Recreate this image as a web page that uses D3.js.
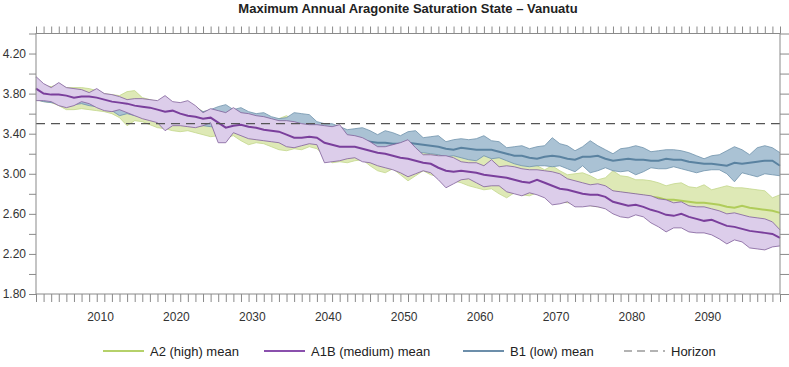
<!DOCTYPE html>
<html>
<head>
<meta charset="utf-8">
<script src="https://cdn.jsdelivr.net/npm/d3@7"></script>
<style>
  body { margin: 0; background: #fff; }
  text { font-family: "Liberation Sans", Arial, Helvetica, sans-serif; }
</style>
</head>
<body>
<div id="chart-area"></div>
<script>
const years = d3.range(2001, 2100)

// A2 (high)
const a2High = [
  3.95,3.88,3.87,3.89,3.86,3.86,3.86,3.85,3.83,3.80,
  3.79,3.78,3.82,3.83,3.76,3.74,3.72,3.74,3.70,3.69,
  3.71,3.67,3.62,3.63,3.61,3.60,3.62,3.59,3.57,3.56,
  3.55,3.53,3.55,3.58,3.53,3.49,3.47,3.46,3.45,3.44,
  3.44,3.38,3.37,3.36,3.37,3.38,3.36,3.34,3.32,3.31,
  3.28,3.27,3.25,3.24,3.23,3.22,3.21,3.20,3.19,3.20,
  3.20,3.24,3.21,3.17,3.12,3.10,3.08,3.04,3.08,3.03,
  2.99,3.00,3.01,2.98,2.94,2.96,3.03,2.98,2.97,2.94,
  2.94,2.93,2.91,2.88,2.90,2.91,2.87,2.86,2.89,2.84,
  2.86,2.88,2.86,2.86,2.85,2.84,2.83,2.76,2.79]
const a2Mean = [
  3.86,3.81,3.80,3.81,3.79,3.78,3.78,3.77,3.76,3.74,
  3.73,3.72,3.71,3.71,3.68,3.66,3.64,3.63,3.62,3.60,
  3.59,3.57,3.55,3.55,3.51,3.48,3.49,3.48,3.46,3.45,
  3.44,3.42,3.41,3.40,3.37,3.35,3.35,3.34,3.30,3.28,
  3.27,3.25,3.24,3.23,3.22,3.20,3.19,3.17,3.15,3.13,
  3.12,3.11,3.10,3.07,3.05,3.04,3.04,3.03,3.02,3.01,
  3.01,3.00,2.99,2.97,2.95,2.94,2.95,2.92,2.92,2.90,
  2.88,2.87,2.86,2.85,2.84,2.83,2.82,2.81,2.80,2.79,
  2.78,2.77,2.76,2.74,2.74,2.73,2.72,2.71,2.71,2.70,
  2.69,2.67,2.66,2.68,2.66,2.65,2.64,2.63,2.61]
const a2Low = [
  3.74,3.72,3.71,3.68,3.64,3.64,3.65,3.64,3.63,3.62,
  3.60,3.56,3.48,3.53,3.52,3.49,3.46,3.45,3.43,3.42,
  3.43,3.41,3.39,3.37,3.38,3.36,3.38,3.33,3.29,3.31,
  3.30,3.27,3.24,3.23,3.25,3.24,3.27,3.25,3.18,3.11,
  3.12,3.11,3.13,3.14,3.08,3.03,3.01,3.05,2.99,2.93,
  2.98,3.03,2.99,2.97,2.94,2.93,2.91,2.88,2.86,2.84,
  2.85,2.80,2.76,2.81,2.79,2.78,2.81,2.77,2.74,2.72,
  2.71,2.70,2.69,2.68,2.67,2.66,2.65,2.64,2.63,2.62,
  2.61,2.60,2.59,2.58,2.58,2.57,2.56,2.55,2.55,2.54,
  2.53,2.53,2.52,2.51,2.50,2.49,2.48,2.47,2.44]

// A1B (medium)
const a1bHigh = [
  3.97,3.90,3.86,3.91,3.86,3.85,3.84,3.81,3.85,3.80,
  3.79,3.77,3.74,3.75,3.75,3.74,3.73,3.78,3.72,3.71,
  3.73,3.68,3.61,3.65,3.63,3.61,3.66,3.61,3.60,3.58,
  3.57,3.55,3.53,3.53,3.52,3.50,3.49,3.49,3.48,3.47,
  3.49,3.39,3.38,3.36,3.32,3.27,3.27,3.29,3.31,3.34,
  3.26,3.19,3.19,3.18,3.18,3.16,3.12,3.11,3.11,3.08,
  3.14,3.07,3.08,3.07,3.05,3.04,3.04,3.03,3.02,3.00,
  2.95,2.93,2.91,2.89,2.90,2.88,2.83,2.82,2.81,2.80,
  2.79,2.78,2.75,2.74,2.71,2.72,2.68,2.67,2.67,2.65,
  2.63,2.60,2.61,2.59,2.57,2.56,2.55,2.52,2.44]
const a1bMean = [
  3.85,3.80,3.79,3.79,3.78,3.76,3.77,3.77,3.76,3.74,
  3.72,3.71,3.70,3.68,3.67,3.66,3.64,3.62,3.63,3.60,
  3.58,3.57,3.55,3.56,3.51,3.46,3.48,3.49,3.47,3.46,
  3.44,3.43,3.42,3.39,3.36,3.36,3.37,3.36,3.31,3.29,
  3.27,3.27,3.27,3.25,3.23,3.21,3.20,3.18,3.16,3.15,
  3.13,3.11,3.10,3.06,3.03,3.02,3.03,3.02,3.01,2.99,
  2.98,2.97,2.96,2.94,2.92,2.91,2.94,2.91,2.88,2.85,
  2.84,2.82,2.80,2.79,2.79,2.77,2.72,2.70,2.68,2.69,
  2.67,2.64,2.62,2.59,2.58,2.60,2.57,2.55,2.53,2.54,
  2.51,2.48,2.47,2.45,2.43,2.42,2.41,2.40,2.36]
const a1bLow = [
  3.73,3.73,3.72,3.68,3.66,3.68,3.72,3.70,3.66,3.63,
  3.62,3.64,3.61,3.58,3.55,3.53,3.51,3.43,3.48,3.48,
  3.47,3.46,3.48,3.51,3.31,3.31,3.41,3.38,3.35,3.34,
  3.33,3.32,3.31,3.27,3.26,3.28,3.30,3.29,3.11,3.12,
  3.13,3.15,3.16,3.12,3.11,3.08,3.06,3.04,3.01,2.97,
  3.00,3.03,3.01,2.94,2.86,2.90,2.94,2.95,2.91,2.87,
  2.88,2.88,2.82,2.80,2.78,2.81,2.79,2.76,2.69,2.70,
  2.72,2.67,2.67,2.68,2.67,2.65,2.60,2.57,2.56,2.59,
  2.57,2.51,2.47,2.42,2.46,2.46,2.42,2.41,2.41,2.39,
  2.35,2.30,2.34,2.32,2.26,2.25,2.24,2.27,2.28]

// B1 (low)
const b1High = [
  3.96,3.88,3.85,3.87,3.84,3.83,3.82,3.80,3.81,3.78,
  3.76,3.75,3.72,3.73,3.72,3.71,3.70,3.72,3.69,3.68,
  3.69,3.66,3.62,3.64,3.67,3.69,3.64,3.66,3.62,3.60,
  3.61,3.57,3.55,3.56,3.61,3.60,3.59,3.52,3.50,3.50,
  3.47,3.44,3.45,3.46,3.43,3.39,3.43,3.41,3.38,3.42,
  3.43,3.36,3.37,3.38,3.32,3.34,3.35,3.34,3.35,3.38,
  3.33,3.32,3.26,3.27,3.28,3.25,3.27,3.28,3.36,3.30,
  3.28,3.23,3.27,3.33,3.28,3.24,3.20,3.25,3.26,3.28,
  3.26,3.22,3.23,3.24,3.24,3.23,3.21,3.18,3.15,3.18,
  3.19,3.23,3.27,3.24,3.19,3.26,3.28,3.26,3.21]
const b1Mean = [
  3.84,3.81,3.80,3.80,3.79,3.77,3.77,3.76,3.76,3.74,
  3.73,3.72,3.70,3.69,3.68,3.67,3.65,3.64,3.63,3.61,
  3.60,3.58,3.57,3.57,3.55,3.54,3.53,3.52,3.50,3.49,
  3.48,3.46,3.45,3.44,3.43,3.42,3.41,3.39,3.37,3.36,
  3.35,3.34,3.33,3.33,3.32,3.31,3.31,3.30,3.30,3.31,
  3.30,3.29,3.28,3.27,3.25,3.24,3.26,3.25,3.24,3.24,
  3.24,3.22,3.20,3.18,3.18,3.16,3.15,3.17,3.18,3.17,
  3.15,3.14,3.17,3.17,3.18,3.15,3.13,3.14,3.15,3.14,
  3.14,3.13,3.13,3.15,3.14,3.14,3.12,3.11,3.10,3.10,
  3.09,3.08,3.11,3.10,3.11,3.12,3.13,3.13,3.08]
const b1Low = [
  3.74,3.72,3.71,3.70,3.69,3.69,3.70,3.68,3.67,3.65,
  3.63,3.58,3.60,3.58,3.57,3.55,3.53,3.52,3.51,3.50,
  3.49,3.48,3.48,3.47,3.46,3.44,3.45,3.43,3.41,3.39,
  3.38,3.37,3.36,3.34,3.33,3.33,3.32,3.30,3.28,3.27,
  3.26,3.25,3.25,3.24,3.23,3.22,3.21,3.20,3.19,3.20,
  3.21,3.21,3.20,3.19,3.17,3.18,3.16,3.14,3.13,3.18,
  3.15,3.16,3.13,3.10,3.08,3.07,3.08,3.08,3.07,3.08,
  3.05,3.02,3.08,3.01,3.03,3.06,3.03,3.02,3.03,2.99,
  3.02,3.06,3.05,3.05,3.07,3.05,3.03,3.01,3.03,3.04,
  3.04,3.00,2.92,3.01,2.99,2.97,3.00,2.99,2.98]

const horizon = 3.5
const xTickLabels = [2010,2020,2030,2040,2050,2060,2070,2080,2090]
const yTicks = [1.8,2.0,2.2,2.4,2.6,2.8,3.0,3.2,3.4,3.6,3.8,4.0,4.2,4.4]
const yTickLabels = [1.8,2.2,2.6,3.0,3.4,3.8,4.2]

const W = 789, H = 367
const MARGIN = { LEFT: 36, RIGHT: 9, TOP: 33.5, BOTTOM: 73 }
const WIDTH = W - MARGIN.LEFT - MARGIN.RIGHT
const HEIGHT = H - MARGIN.TOP - MARGIN.BOTTOM

const svg = d3.select("#chart-area").append("svg")
    .attr("width", W)
    .attr("height", H)

svg.append("text")
    .attr("x", MARGIN.LEFT + WIDTH / 2)
    .attr("y", 13)
    .attr("text-anchor", "middle")
    .attr("font-size", 13)
    .attr("font-weight", "bold")
    .attr("fill", "#222")
    .text("Maximum Annual Aragonite Saturation State \u2013 Vanuatu")

const g = svg.append("g")
    .attr("transform", `translate(${MARGIN.LEFT},${MARGIN.TOP})`)

// annual values sit at mid-year
const x = d3.scaleLinear().domain([2001.5, 2099.5]).range([0, WIDTH])
const y = d3.scaleLinear().domain([1.8, 4.4]).range([HEIGHT, 0])

const rows = (lo, mid, hi) => years.map((yr, i) => ({ yr: yr + 0.5, lo: lo[i], mid: mid[i], hi: hi[i] }))

const series = [
  { name: "A2 (high) mean", data: rows(a2Low, a2Mean, a2High), fill: "#dee9b6", edge: "#c3d78c", line: "#b0cc5a" },
  { name: "B1 (low) mean", data: rows(b1Low, b1Mean, b1High), fill: "#aac2d4", edge: "#6f92ab", line: "#5a82a0" },
  { name: "A1B (medium) mean", data: rows(a1bLow, a1bMean, a1bHigh), fill: "#dccdea", edge: "#80609a", line: "#7a3f9c" }
]

const area = d3.area().x(d => x(d.yr)).y0(d => y(d.lo)).y1(d => y(d.hi))
const line = key => d3.line().x(d => x(d.yr)).y(d => y(d[key]))

series.forEach(s => {
  g.append("path").datum(s.data)
      .attr("d", area)
      .attr("fill", s.fill)
  g.append("path").datum(s.data)
      .attr("d", line("hi"))
      .attr("fill", "none").attr("stroke", s.edge).attr("stroke-width", 0.8)
  g.append("path").datum(s.data)
      .attr("d", line("lo"))
      .attr("fill", "none").attr("stroke", s.edge).attr("stroke-width", 0.8)
  g.append("path").datum(s.data)
      .attr("d", line("mid"))
      .attr("fill", "none").attr("stroke", s.line).attr("stroke-width", 2)
})

// horizon
g.append("line")
    .attr("x1", 0).attr("x2", WIDTH)
    .attr("y1", y(horizon)).attr("y2", y(horizon))
    .attr("stroke", "#555").attr("stroke-width", 1.1)
    .attr("stroke-dasharray", "9,6")

// frame
const axisCol = "#8a8a8a"
g.append("rect")
    .attr("x", 0).attr("y", 0).attr("width", WIDTH).attr("height", HEIGHT)
    .attr("fill", "none").attr("stroke", axisCol).attr("stroke-width", 1)

// y axes
const yLeft = g.append("g").call(d3.axisLeft(y).tickValues(yTicks).tickSize(7)
    .tickFormat(d => yTickLabels.some(v => Math.abs(v - d) < 1e-6) ? d3.format(".2f")(d) : ""))
const yRight = g.append("g").attr("transform", `translate(${WIDTH},0)`)
    .call(d3.axisRight(y).tickValues(yTicks).tickSize(9).tickFormat(""))

// x axes: a tick at every annual value
const tickYears = years.map(yr => yr + 0.5)
const xBottom = g.append("g").attr("transform", `translate(0,${HEIGHT})`)
    .call(d3.axisBottom(x).tickValues(tickYears).tickSize(8).tickFormat(""))
const xTop = g.append("g")
    .call(d3.axisTop(x).tickValues(tickYears).tickSize(7).tickFormat(""))

;[yLeft, yRight, xBottom, xTop].forEach(a => {
  a.select(".domain").remove()
  a.selectAll(".tick line").attr("stroke", axisCol)
})
yLeft.selectAll(".tick text").attr("font-size", 12).attr("fill", "#333").attr("x", -10)

g.append("g").selectAll("text")
    .data(xTickLabels)
    .enter().append("text")
    .attr("x", d => x(d))
    .attr("y", HEIGHT + 27)
    .attr("text-anchor", "middle")
    .attr("font-size", 12)
    .attr("fill", "#333")
    .text(d => d)

// legend
const legend = [
  { name: "A2 (high) mean", col: "#b5d16a", x: 103, dash: null },
  { name: "A1B (medium) mean", col: "#8a50ad", x: 264, dash: null },
  { name: "B1 (low) mean", col: "#6c8eaa", x: 463, dash: null },
  { name: "Horizon", col: "#9a9a9a", x: 624, dash: "8,5" }
]
const lg = svg.append("g").attr("transform", "translate(0,351)")
legend.forEach(l => {
  lg.append("line")
      .attr("x1", l.x).attr("x2", l.x + 41)
      .attr("y1", 0).attr("y2", 0)
      .attr("stroke", l.col).attr("stroke-width", l.dash ? 1.3 : 2)
      .attr("stroke-dasharray", l.dash)
  lg.append("text")
      .attr("x", l.x + 47).attr("y", 4.5)
      .attr("font-size", 13)
      .attr("fill", "#222")
      .text(l.name)
})
</script>
</body>
</html>
